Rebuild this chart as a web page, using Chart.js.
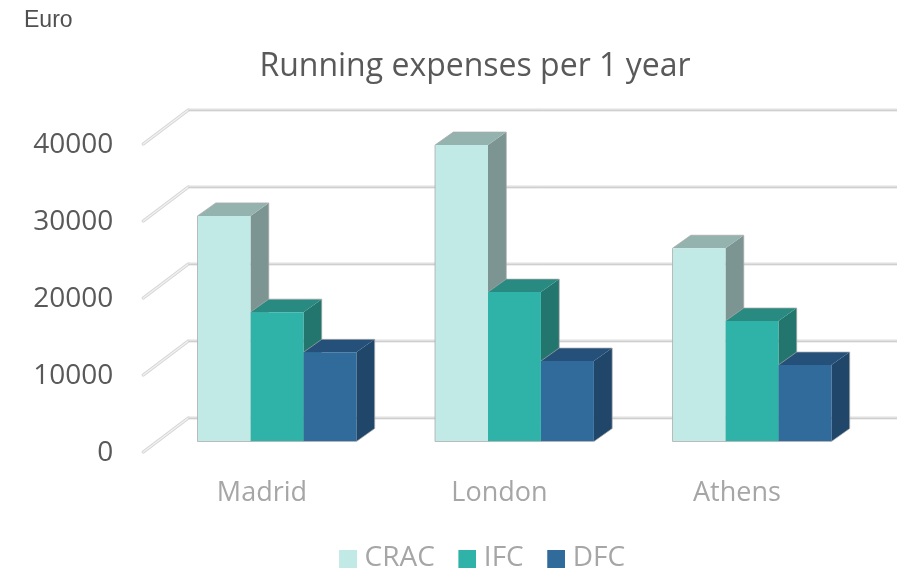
<!DOCTYPE html>
<html><head><meta charset="utf-8">
<style>html,body{margin:0;padding:0;background:#fff}canvas{display:block}</style>
<script src="https://cdn.jsdelivr.net/npm/chart.js@4"></script>
</head><body><canvas id="c" width="897" height="571"></canvas>
<script>
const categories = ['Madrid', 'London', 'Athens'];
const seriesNames = ['CRAC', 'IFC', 'DFC'];
const crac = [29300, 38500, 25100];
const ifc = [16800, 19400, 15650];
const dfc = [11580, 10450, 9930];
const yTicks = [0, 10000, 20000, 30000, 40000];
const unitLabel = 'Euro';
const titleText = 'Running expenses per 1 year';

const FRONT = ['#c1e9e5', '#2fb3a8', '#306b9c'];
const SIDE = ['#7c9592', '#23766d', '#20476a'];
const TOP = ['#94b3ae', '#288a80', '#245079'];
const DX = 18.3, DY = 13;
const FONT = '"Open Sans", sans-serif';

function poly(ctx, pts, fill) {
  ctx.beginPath();
  pts.forEach((p, i) => i ? ctx.lineTo(p[0], p[1]) : ctx.moveTo(p[0], p[1]));
  ctx.closePath();
  ctx.fillStyle = fill;
  ctx.fill();
}

function swatch(color) {
  const cv = document.createElement('canvas');
  cv.width = 22;
  cv.height = 22;
  const g = cv.getContext('2d');
  g.fillStyle = color;
  g.fillRect(4, 3, 18, 18);
  return cv;
}

const threeD = {
  id: 'threeD',
  afterLayout(chart) {
    const lg = chart.legend;
    lg.left += 48; lg.right += 48;
    lg.top += 11; lg.bottom += 11;
    const ti = chart.titleBlock;
    ti.left += 39.6; ti.right += 39.6;
  },
  beforeDatasetsDraw(chart) {
    const { ctx, scales: { y }, chartArea: a } = chart;
    ctx.save();
    y.ticks.forEach(t => {
      const py = y.getPixelForValue(t.value) - 23.5;
      const bx = a.left + 30.1;
      ctx.lineCap = 'round';
      ctx.lineJoin = 'round';
      ctx.beginPath();
      ctx.moveTo(bx - 45, py + 34);
      ctx.lineTo(bx, py);
      ctx.strokeStyle = '#d6d6d6';
      ctx.lineWidth = 3.4;
      ctx.stroke();
      ctx.beginPath();
      ctx.moveTo(bx - 45, py + 34);
      ctx.lineTo(bx, py);
      ctx.strokeStyle = '#f1f1f1';
      ctx.lineWidth = 1.4;
      ctx.stroke();
      ctx.lineCap = 'butt';
      ctx.beginPath();
      ctx.moveTo(bx, py);
      ctx.lineTo(chart.width, py);
      ctx.strokeStyle = '#e0e0e0';
      ctx.lineWidth = 3;
      ctx.stroke();
      ctx.beginPath();
      ctx.moveTo(bx, py + 0.5);
      ctx.lineTo(chart.width, py + 0.5);
      ctx.strokeStyle = '#cfcfcf';
      ctx.lineWidth = 1;
      ctx.stroke();
    });
    chart.data.datasets.forEach((ds, di) => {
      chart.getDatasetMeta(di).data.forEach(b => {
        const l = b.x - b.width / 2, r = b.x + b.width / 2, t = b.y, f = b.base;
        poly(ctx, [[r, t], [r + DX, t - DY], [r + DX, f - DY], [r, f]], SIDE[di]);
        poly(ctx, [[l, t], [l + DX, t - DY], [r + DX, t - DY], [r, t]], TOP[di]);
        ctx.beginPath();
        ctx.moveTo(l, t);
        ctx.lineTo(l + DX, t - DY);
        ctx.lineTo(r + DX, t - DY);
        ctx.lineTo(r + DX, f - DY);
        ctx.lineTo(r, f);
        ctx.strokeStyle = 'rgba(170,170,170,0.7)';
        ctx.lineWidth = 1;
        ctx.stroke();
      });
    });
    ctx.restore();
  },
  afterDatasetsDraw(chart) {
    const { ctx } = chart;
    ctx.save();
    ctx.strokeStyle = 'rgba(170,170,170,0.75)';
    ctx.lineWidth = 1;
    const metas = chart.data.datasets.map((d, i) => chart.getDatasetMeta(i).data);
    categories.forEach((c, i) => {
      const a = metas[0][i], z = metas[2][i];
      const l = a.x - a.width / 2, r = z.x + z.width / 2;
      ctx.beginPath();
      ctx.moveTo(l, a.y);
      ctx.lineTo(l, a.base);
      ctx.lineTo(r, a.base);
      ctx.stroke();
    });
    ctx.restore();
  },
  afterDraw(chart) {
    const { ctx } = chart;
    ctx.save();
    ctx.font = '23px "Liberation Sans", sans-serif';
    ctx.fillStyle = '#505050';
    ctx.textBaseline = 'middle';
    ctx.fillText(unitLabel, 24, 21);
    ctx.restore();
  }
};

new Chart(document.getElementById('c'), {
  type: 'bar',
  data: {
    labels: categories,
    datasets: [crac, ifc, dfc].map((values, i) => ({
      label: seriesNames[i],
      data: values,
      backgroundColor: FRONT[i],
      borderWidth: 0,
      barPercentage: 1,
      categoryPercentage: 0.669
    }))
  },
  options: {
    responsive: false,
    animation: false,
    layout: { padding: { left: 0, right: 26.3, top: 0, bottom: 0 } },
    plugins: {
      tooltip: { enabled: false },
      title: {
        display: true,
        text: titleText,
        color: '#595959',
        font: { family: FONT, size: 32, weight: 'normal', lineHeight: 1.2 },
        padding: { top: 47.8, bottom: 47.3 }
      },
      legend: {
        position: 'bottom',
        labels: {
          color: '#a6a6a6',
          font: { family: FONT, size: 28 },
          usePointStyle: true,
          pointStyleWidth: 9,
          boxHeight: 18,
          padding: 26,
          generateLabels(chart) {
            const items = Chart.defaults.plugins.legend.labels.generateLabels(chart);
            items.forEach((it, i) => { it.pointStyle = swatch(FRONT[i]); });
            return items;
          }
        }
      }
    },
    scales: {
      x: {
        grid: { display: false, drawTicks: false },
        border: { display: false },
        ticks: { color: '#a6a6a6', font: { family: FONT, size: 27 }, padding: 36, labelOffset: -15, maxRotation: 0 },
        afterFit(s) { s.height = 65.5; }
      },
      y: {
        min: 0,
        max: 40000,
        afterBuildTicks(s) { s.ticks = yTicks.map(v => ({ value: v })); },
        grid: { display: false, drawTicks: false },
        border: { display: false },
        ticks: { color: '#595959', font: { family: FONT, size: 28 }, padding: 45, labelOffset: 12, callback: v => String(v) },
        afterFit(s) { s.width = 158.2; }
      }
    }
  },
  plugins: [threeD]
});
</script></body></html>
